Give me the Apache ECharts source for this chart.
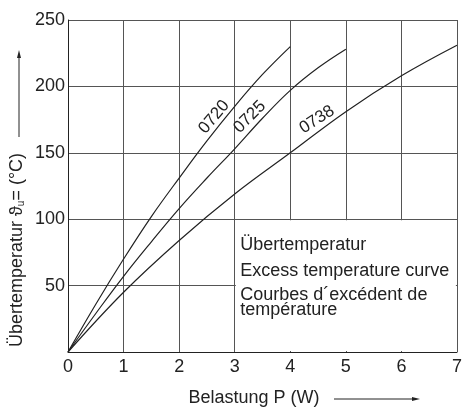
<!DOCTYPE html>
<html>
<head>
<meta charset="utf-8">
<script src="https://cdn.jsdelivr.net/npm/echarts@6/dist/echarts.min.js"></script>
<style>
  html, body { margin: 0; padding: 0; background: #fff; }
  #chart { width: 465px; height: 407px; }
</style>
</head>
<body>
<div id="chart"></div>
<script>
// region data

const xTicks = [0, 1, 2, 3, 4, 5, 6, 7]
const yTicks = [0, 50, 100, 150, 200, 250]

// Belastung P (W) / Übertemperatur (°C)
const p0720 = [0, 0.5, 1, 1.5, 2, 2.5, 3, 3.5, 4]
const t0720 = [0, 36, 70, 102, 131, 159, 185, 209, 230]

const p0725 = [0, 0.5, 1, 1.5, 2, 2.5, 3, 3.5, 4, 4.5, 5]
const t0725 = [0, 29, 57, 83, 108, 131, 153, 176, 197, 214, 228]

const p0738 = [0, 1, 2, 3, 4, 5, 6, 7]
const t0738 = [0, 45, 84, 119, 150, 181, 208, 231]

const boxLines = ['Übertemperatur', 'Excess temperature curve', 'Courbes d´excédent de', 'température']

// endregion

const FONT = '"Liberation Sans", Arial, sans-serif'
const INK = '#222'

function pairs(xs, ys) {
  return xs.map((x, i) => [x, ys[i]])
}

function curve(name, xs, ys, labelAt, rotate) {
  return {
    name: name,
    type: 'line',
    smooth: 0.4,
    symbol: 'none',
    lineStyle: {color: INK, width: 1.2},
    data: pairs(xs, ys),
    z: 5,
    markPoint: {
      symbol: 'circle',
      symbolSize: 0,
      silent: true,
      label: {
        show: true,
        position: 'inside',
        formatter: name,
        rotate: rotate,
        color: INK,
        fontFamily: FONT,
        fontSize: 17
      },
      data: [{coord: labelAt}]
    }
  }
}

const chart = echarts.init(document.getElementById('chart'))

const option = {
  animation: false,
  grid: {left: 68, top: 20, right: 3, bottom: 55},
  xAxis: {
    type: 'value',
    min: xTicks[0],
    max: xTicks[xTicks.length - 1],
    interval: 1,
    axisLine: {lineStyle: {color: INK, width: 1}},
    axisTick: {show: false},
    axisLabel: {color: INK, fontFamily: FONT, fontSize: 18, margin: 6},
    splitLine: {show: true, lineStyle: {color: '#555', width: 1}}
  },
  yAxis: {
    type: 'value',
    min: yTicks[0],
    max: yTicks[yTicks.length - 1],
    interval: 50,
    axisLine: {show: true, lineStyle: {color: INK, width: 1}},
    axisTick: {show: false},
    axisLabel: {
      color: INK, fontFamily: FONT, fontSize: 18, margin: 3,
      formatter: v => (v === 0 ? '' : String(v))
    },
    splitLine: {show: true, lineStyle: {color: '#555', width: 1}}
  },
  series: [
    curve('0720', p0720, t0720, [2.63, 177], 50),
    curve('0725', p0725, t0725, [3.27, 177], 45),
    curve('0738', p0738, t0738, [4.48, 175], 33),
    {
      // white text box in the lower right
      type: 'line',
      data: [],
      z: 3,
      markArea: {
        silent: true,
        itemStyle: {color: '#fff'},
        label: {show: false},
        data: [[{coord: [3.02, 0.8]}, {coord: [6.98, 99.2]}]]
      },
      markPoint: {
        symbol: 'circle',
        symbolSize: 0,
        silent: true,
        label: {
          show: true,
          position: 'right',
          distance: 0,
          color: INK,
          fontFamily: FONT,
          fontSize: 18
        },
        data: [
          {coord: [3.1, 80.8], label: {formatter: boxLines[0]}},
          {coord: [3.1, 61.2], label: {formatter: boxLines[1]}},
          {coord: [3.1, 43.1], label: {formatter: boxLines[2]}},
          {coord: [3.1, 31.6], label: {formatter: boxLines[3]}}
        ]
      }
    }
  ],
  graphic: [
    {
      type: 'text',
      x: 17,
      y: 250,
      rotation: Math.PI / 2,
      style: {
        text: 'Übertemperatur ϑ{sub|u}= (°C)',
        fill: INK,
        font: '18px ' + FONT,
        align: 'center',
        verticalAlign: 'middle',
        rich: {
          sub: {fontSize: 10, fontFamily: FONT, fill: INK, padding: [9, 0, 0, 0]}
        }
      }
    },
    {type: 'line', shape: {x1: 19, y1: 137, x2: 19, y2: 56}, style: {stroke: INK, lineWidth: 1}},
    {type: 'polygon', shape: {points: [[19, 50], [17, 58], [21, 58]]}, style: {fill: INK}},
    {
      type: 'text',
      x: 254,
      y: 398,
      style: {
        text: 'Belastung P (W)',
        fill: INK,
        font: '18px ' + FONT,
        align: 'center',
        verticalAlign: 'middle'
      }
    },
    {type: 'line', shape: {x1: 334, y1: 399, x2: 414, y2: 399}, style: {stroke: INK, lineWidth: 1}},
    {type: 'polygon', shape: {points: [[420, 399], [412, 397], [412, 401]]}, style: {fill: INK}}
  ]
}

chart.setOption(option)
</script>
</body>
</html>
